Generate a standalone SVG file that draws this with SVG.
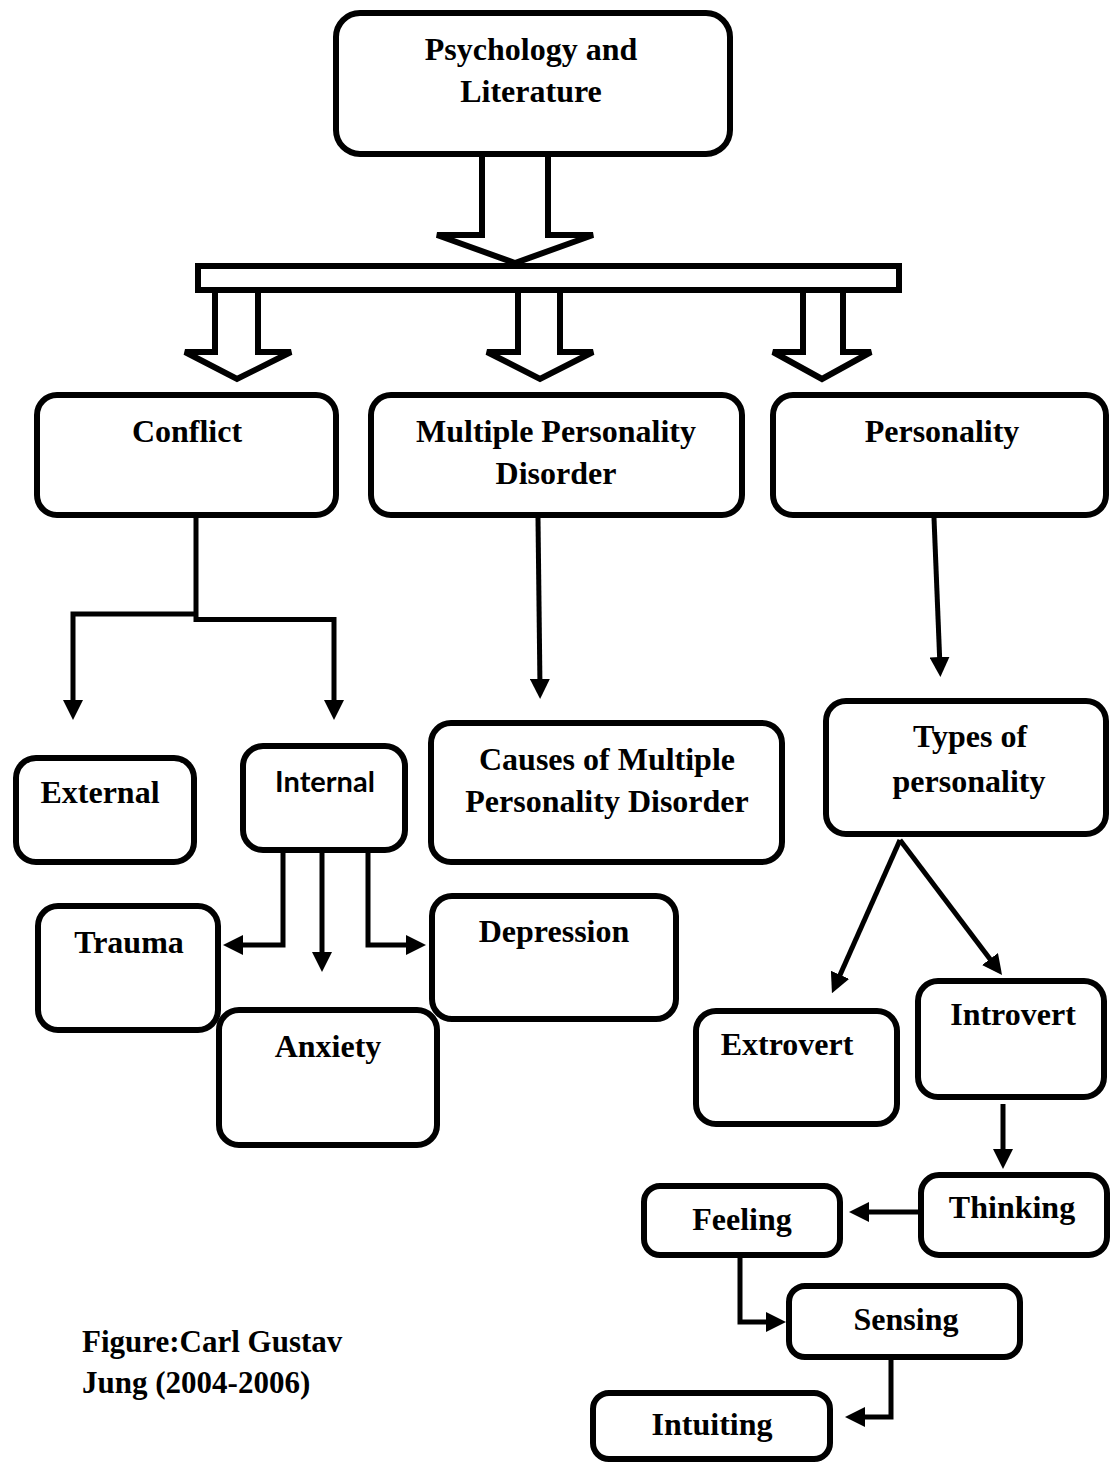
<svg xmlns="http://www.w3.org/2000/svg" width="1110" height="1463" viewBox="0 0 1110 1463">
<style>
.box{fill:#fff;stroke:#000;stroke-width:6}
.t{font-family:"Liberation Serif","Times New Roman",serif;font-weight:bold;font-size:32px;text-anchor:middle;fill:#000}
.s{font-family:Lato,"Liberation Sans",sans-serif;font-weight:bold;font-size:29px;text-anchor:middle;fill:#000}
.cap{font-family:"Liberation Serif","Times New Roman",serif;font-weight:bold;font-size:31px;fill:#000}
.blk{fill:#fff;stroke:#000;stroke-width:6;stroke-linejoin:miter}
.c{fill:none;stroke:#000;stroke-width:5;stroke-linejoin:miter}
.ca{fill:none;stroke:#000;stroke-width:5;stroke-linejoin:miter;marker-end:url(#ah)}
</style>
<defs>
<marker id="ah" viewBox="0 0 20 20" markerWidth="20" markerHeight="20" markerUnits="userSpaceOnUse" refX="10" refY="10" orient="auto">
<path d="M0,0 L20,10 L0,20 z" fill="#000"/>
</marker>
</defs>
<g id="connectors">
<path class="blk" d="M482,152 V235 H437 L515,263 L593,235 H548 V152"/>
<rect id="bar" class="blk" x="198" y="266" width="701" height="24"/>
<path class="blk" d="M215,293 V352 H185 L237,379 L291,352 H258 V293"/>
<path class="blk" d="M518,293 V352 H487 L540,379 L593,352 H560 V293"/>
<path class="blk" d="M803,293 V352 H773 L822,379 L871,352 H843 V293"/>
<path class="c" d="M196,518 V622"/>
<path class="ca" d="M198,614 H73 V710"/>
<path class="ca" d="M194,619.5 H334 V710"/>
<path class="ca" d="M538,518 L540,689"/>
<path class="ca" d="M934,518 L940,667"/>
<path class="ca" d="M283,853 V945 H233"/>
<path class="ca" d="M322,853 V962"/>
<path class="ca" d="M368,853 V945 H416"/>
<path class="ca" d="M900,840 L836,984"/>
<path class="ca" d="M900,840 L996,967"/>
<path class="ca" d="M1003,1104 V1159"/>
<path class="ca" d="M918,1212 H859"/>
<path class="ca" d="M740,1258 V1322 H776"/>
<path class="ca" d="M891,1360 V1417 H855"/>
</g>
<g id="psychology-literature"><rect class="box" x="336" y="13" width="394" height="141" rx="24"/><text class="t" x="531" y="60">Psychology and</text><text class="t" x="531" y="102">Literature</text></g>
<g id="conflict"><rect class="box" x="37" y="395" width="299" height="120" rx="20"/><text class="t" x="187" y="442">Conflict</text></g>
<g id="mpd"><rect class="box" x="371" y="395" width="371" height="120" rx="20"/><text class="t" x="556" y="442">Multiple Personality</text><text class="t" x="556" y="484">Disorder</text></g>
<g id="personality"><rect class="box" x="773" y="395" width="333" height="120" rx="20"/><text class="t" x="942" y="442">Personality</text></g>
<g id="external"><rect class="box" x="16" y="758" width="178" height="104" rx="20"/><text class="t" x="100" y="803">External</text></g>
<g id="internal"><rect class="box" x="243" y="746" width="162" height="104" rx="20"/><text class="s" x="325" y="792">Internal</text></g>
<g id="causes"><rect class="box" x="431" y="723" width="351" height="139" rx="20"/><text class="t" x="607" y="770">Causes of Multiple</text><text class="t" x="607" y="812">Personality Disorder</text></g>
<g id="types"><rect class="box" x="826" y="701" width="280" height="133" rx="20"/><text class="t" x="970" y="747">Types of</text><text class="t" x="969" y="792">personality</text></g>
<g id="trauma"><rect class="box" x="38" y="906" width="180" height="124" rx="20"/><text class="t" x="129" y="953">Trauma</text></g>
<g id="depression"><rect class="box" x="432" y="896" width="244" height="123" rx="20"/><text class="t" x="554" y="942">Depression</text></g>
<g id="anxiety"><rect class="box" x="219" y="1010" width="218" height="135" rx="20"/><text class="t" x="328" y="1057">Anxiety</text></g>
<g id="extrovert"><rect class="box" x="696" y="1011" width="201" height="113" rx="20"/><text class="t" x="787" y="1055">Extrovert</text></g>
<g id="introvert"><rect class="box" x="918" y="981" width="186" height="116" rx="20"/><text class="t" x="1013" y="1025">Introvert</text></g>
<g id="thinking"><rect class="box" x="921" y="1175" width="186" height="80" rx="18"/><text class="t" x="1012" y="1218">Thinking</text></g>
<g id="feeling"><rect class="box" x="644" y="1186" width="196" height="69" rx="16"/><text class="t" x="742" y="1230">Feeling</text></g>
<g id="sensing"><rect class="box" x="789" y="1286" width="231" height="71" rx="16"/><text class="t" x="906" y="1330">Sensing</text></g>
<g id="intuiting"><rect class="box" x="593" y="1393" width="237" height="66" rx="16"/><text class="t" x="712" y="1435">Intuiting</text></g>
<g id="caption"><text class="cap" x="82" y="1352">Figure:Carl Gustav</text><text class="cap" x="82" y="1393">Jung (2004-2006)</text></g>
</svg>
